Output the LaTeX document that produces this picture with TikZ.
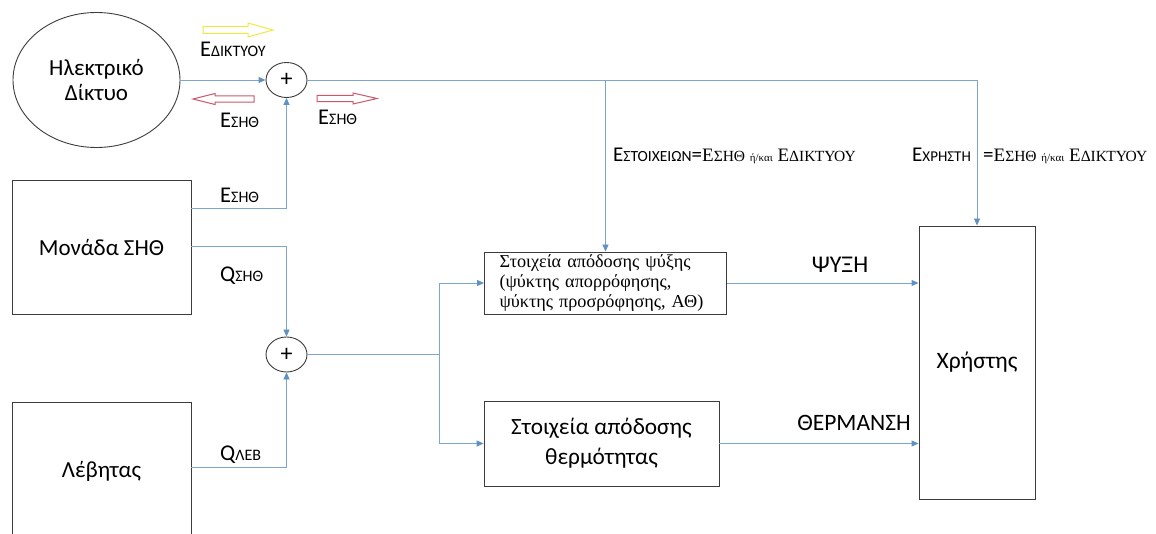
\documentclass[tikz,border=0pt]{standalone}
\usepackage{fontspec}
\setmainfont{Carlito}
\newfontfamily\tms{Liberation Serif}
\usetikzlibrary{arrows.meta,shapes.geometric}
\definecolor{lineblue}{RGB}{125,165,205}
\definecolor{tipblue}{RGB}{95,145,195}
\definecolor{boxgray}{RGB}{60,60,60}
\definecolor{yel}{RGB}{240,232,70}
\definecolor{rosy}{RGB}{200,90,110}
\newcommand\fs[1]{\fontsize{#1}{#1}\selectfont}
\newcommand\sml[1]{{\fs{16}#1}}
\newcommand\tsml[1]{{\fs{15.5}#1}}
\newcommand\tinylbl[1]{{\fs{11}#1}}
\tikzset{
  conn/.style={draw=lineblue, line width=0.9pt},
  arr/.style={conn, -{Triangle[length=7pt,width=6pt,fill=tipblue,color=tipblue]}},
  blk/.style={draw=boxgray, line width=0.9pt, rectangle, inner sep=0pt},
  lbl/.style={anchor=base west, inner sep=0pt, font=\fs{22.5}},
  sumnode/.style={draw=boxgray, line width=0.9pt, ellipse, inner sep=0pt, minimum width=41pt, minimum height=35pt, font=\fs{24}},
}
\begin{document}
\begin{tikzpicture}[x=1pt,y=-1pt]
\clip (0,0) rectangle (1156,534);
\fill[white] (0,0) rectangle (1156,534);
% nodes
\node[draw=boxgray, line width=0.9pt, ellipse, minimum width=167pt, minimum height=135pt, align=center, inner sep=0pt, font=\fontsize{23}{25}\selectfont] (grid) at (96.5,80) {Ηλεκτρικό\\Δίκτυο};
\node[sumnode] (p1) at (286.5,80) {+};
\node[sumnode] (p2) at (286.5,354.5) {+};
\node[blk, minimum width=179pt, minimum height=134pt, font=\fs{23}] (chp) at (101.5,247) {Μονάδα ΣΗΘ};
\node[blk, minimum width=179pt, minimum height=138pt, font=\fs{23}] (boil) at (101.5,471) {Λέβητας};
\node[blk, minimum width=242pt, minimum height=62pt, inner xsep=15pt, text width=212pt, align=left, font=\tms\fontsize{18.2}{20}\selectfont] (cool) at (605.5,283) {Στοιχεία απόδοσης ψύξης\\(ψύκτης απορρόφησης,\\ψύκτης προσρόφησης, ΑΘ)};
\node[blk, minimum width=235pt, minimum height=85pt, align=center, font=\fontsize{23.3}{30}\selectfont] (heat) at (601.5,443.5) {Στοιχεία απόδοσης\\θερμότητας};
\node[blk, minimum width=116pt, minimum height=273pt, font=\fs{23.5}] (user) at (977,362.5) {Χρήστης};
\coordinate (split) at (439,354.5);
% connectors
\draw[arr] (grid.east) -- (p1.west);
\draw[arr] (p1.east) -| (user.north);
\draw[arr] (cool.north |- p1.east) -- (cool.north);
\draw[arr] ([yshift=-29pt]chp.north east) -| (p1.south);
\draw[arr] ([yshift=-67pt]chp.north east) -| (p2.north);
\draw[arr] ([yshift=-66pt]boil.north east) -| (p2.south);
\draw[conn] (p2.east) -- (split);
\draw[arr] (split) |- (cool.west);
\draw[arr] (split) |- (heat.west);
\draw[arr] (cool.east) -- (cool.east -| user.west);
\draw[arr] (heat.east) -- (heat.east -| user.west);
% block arrows
\draw[yel, line width=1pt, fill=white] (203,26.5) -- (248,26.5) -- (248,23) -- (273,30) -- (248,37) -- (248,33.5) -- (203,33.5) -- cycle;
\draw[rosy, line width=1pt, fill=white] (254,95.8) -- (215,95.8) -- (215,93.5) -- (193,99) -- (215,104.5) -- (215,102.2) -- (254,102.2) -- cycle;
\draw[rosy, line width=1pt, fill=white] (317,95.3) -- (353,95.3) -- (353,93) -- (377,98.5) -- (353,104) -- (353,101.7) -- (317,101.7) -- cycle;
% labels
\node[lbl] (lgrid) at (200,57) {Ε\sml{ΔΙΚΤΥΟΥ}};
\node[lbl] (lchpa) at (220,128) {Ε\sml{ΣΗΘ}};
\node[lbl] (lchpb) at (318,125) {Ε\sml{ΣΗΘ}};
\node[lbl] (lchpc) at (220,203) {Ε\sml{ΣΗΘ}};
\node[lbl] (lqchp) at (220,282) {Q\sml{ΣΗΘ}};
\node[lbl] (lqlev) at (220,460) {Q\sml{ΛΕΒ}};
\node[anchor=base, inner sep=0pt, font=\fs{24}] (lcool) at (840,273) {ΨΥΞΗ};
\node[anchor=base, inner sep=0pt, font=\fs{23.5}] (lheat) at (854,430) {ΘΕΡΜΑΝΣΗ};
\node[lbl, font=\fs{21}] (lelem) at (613,162) {Ε{\fs{15.5}ΣΤΟΙΧΕΙΩΝ}={\tms\fs{19}Ε\tsml{ΣΗΘ} \tinylbl{ή/και} Ε\tsml{ΔΙΚΤΥΟΥ}}};
\node[lbl, font=\fs{21}] (luser) at (912,162) {Ε{\fs{15}ΧΡΗΣΤΗ}};
\node[lbl, font=\fs{21}] (luser2) at (983,162) {={\tms\fs{19}Ε\tsml{ΣΗΘ} \tinylbl{ή/και} Ε\tsml{ΔΙΚΤΥΟΥ}}};
\end{tikzpicture}
\end{document}
